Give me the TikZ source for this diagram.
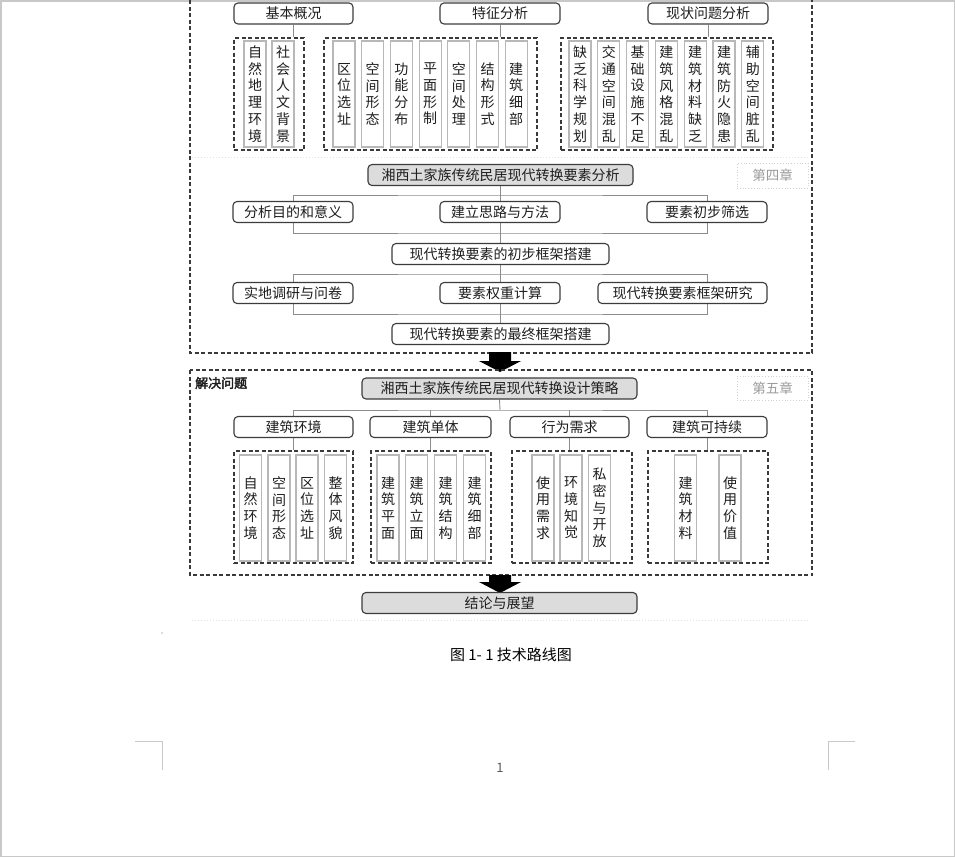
\documentclass[tikz,border=0pt]{standalone}
\usepackage{fontspec}
\setmainfont{Noto Sans CJK SC}[AutoFakeBold=2.5]
\usetikzlibrary{backgrounds}
\definecolor{boxc}{HTML}{3C3C3C}
\definecolor{fillg}{HTML}{DCDCDC}
\definecolor{grpc}{HTML}{3A3A3A}
\definecolor{vbc}{HTML}{B8B8B8}
\definecolor{connc}{HTML}{8C8C8C}
\definecolor{txt}{HTML}{1E1E1E}
\definecolor{chapc}{HTML}{D0D0D0}
\definecolor{chapt}{HTML}{9A9A9A}
\definecolor{pagec}{HTML}{C8C8C8}
\definecolor{sepc}{HTML}{E2E2E2}
\tikzset{
 rbox/.style={draw=boxc, line width=1.1pt, rounded corners=4pt, fill=white, minimum height=21pt, inner sep=0pt, font=\fontsize{14}{14}\selectfont, text=txt},
 gbox/.style={rbox, fill=fillg},
 grp/.style={draw=grpc, dash pattern=on 4pt off 2.5pt, line width=1.3pt, inner sep=0pt},
 vbox/.style={draw=vbc, line width=1.2pt, fill=white, minimum width=22pt, minimum height=106pt, inner sep=0pt, align=center, font=\fontsize{14}{16.7}\selectfont, text=txt},
 conn/.style={draw=connc, line width=0.9pt},
 chap/.style={draw=chapc, dotted, line width=0.8pt, text=chapt, font=\fontsize{13.5}{13.5}\selectfont, inner sep=0pt, minimum width=71pt, minimum height=25pt},
 outerframe/.style={draw=grpc, dash pattern=on 4pt off 2.5pt, line width=1.3pt},
 sepline/.style={draw=sepc, dotted, line width=1pt},
 bigarrow/.style={fill=black},
 cornermark/.style={draw=pagec, line width=1pt},
}
\begin{document}
\begin{tikzpicture}[x=1pt,y=-1pt]
\useasboundingbox (0,0) rectangle (955,857);
\draw[draw=pagec, line width=1.5pt] (0.75,0.75) rectangle (954.25,856.25);

% ---------- outer frame 1 ----------
\draw[outerframe] (190,0) -- (190,353) -- (812,353) -- (812,0);
\draw[sepline] (192,157) -- (810,157);

% top row
\node[rbox, minimum width=119pt] (t1) at (293.5,13.5) {基本概况};
\node[rbox, minimum width=120pt] (t2) at (500,13.5) {特征分析};
\node[rbox, minimum width=120pt] (t3) at (708,13.5) {现状问题分析};

\node[grp, minimum width=70pt, minimum height=112pt] (g1) at (269,94) {};
\node[grp, minimum width=213pt, minimum height=112pt] (g2) at (430.5,94) {};
\node[grp, minimum width=212pt, minimum height=112pt] (g3) at (667,94) {};

\node[vbox] (a1) at (255,94) {自\\然\\地\\理\\环\\境};
\node[vbox] (a2) at (283,94) {社\\会\\人\\文\\背\\景};

\node[vbox] (b1) at (344,94) {区\\位\\选\\址};
\node[vbox] (b2) at (372.7,94) {空\\间\\形\\态};
\node[vbox] (b3) at (401.4,94) {功\\能\\分\\布};
\node[vbox] (b4) at (430.1,94) {平\\面\\形\\制};
\node[vbox] (b5) at (458.8,94) {空\\间\\处\\理};
\node[vbox] (b6) at (487.5,94) {结\\构\\形\\式};
\node[vbox] (b7) at (516.2,94) {建\\筑\\细\\部};

\node[vbox] (c1) at (580,94) {缺\\乏\\科\\学\\规\\划};
\node[vbox] (c2) at (608.8,94) {交\\通\\空\\间\\混\\乱};
\node[vbox] (c3) at (637.6,94) {基\\础\\设\\施\\不\\足};
\node[vbox] (c4) at (666.4,94) {建\\筑\\风\\格\\混\\乱};
\node[vbox] (c5) at (695.2,94) {建\\筑\\材\\料\\缺\\乏};
\node[vbox] (c6) at (724,94) {建\\筑\\防\\火\\隐\\患};
\node[vbox] (c7) at (752.8,94) {辅\\助\\空\\间\\脏\\乱};

% ---------- chapter four ----------
\node[chap] (ch4) at (772.5,175.5) {第四章};
\node[gbox, minimum width=265pt] (m0) at (500.5,175) {湘西土家族传统民居现代转换要素分析};
\node[rbox, minimum width=120pt] (m1a) at (293,212) {分析目的和意义};
\node[rbox, minimum width=120pt] (m1b) at (500,212) {建立思路与方法};
\node[rbox, minimum width=120pt] (m1c) at (707,212) {要素初步筛选};
\node[rbox, minimum width=217pt] (m2) at (500.5,254) {现代转换要素的初步框架搭建};
\node[rbox, minimum width=120pt] (m3a) at (293,293) {实地调研与问卷};
\node[rbox, minimum width=120pt] (m3b) at (500,293) {要素权重计算};
\node[rbox, minimum width=169pt] (m3c) at (682.5,293) {现代转换要素框架研究};
\node[rbox, minimum width=217pt] (m4) at (500.5,334) {现代转换要素的最终框架搭建};

\coordinate (bus1) at (500,195);
\coordinate (bus2) at (500,233);
\coordinate (bus3) at (500,274);
\coordinate (bus4) at (500,314);
\coordinate (xr) at (707,0);

% ---------- arrows ----------
\fill[bigarrow] (489,352) -- (511,352) -- (511,361) -- (521,361) -- (500,372) -- (479,361) -- (489,361) -- cycle;

% ---------- outer frame 2 ----------
\draw[outerframe] (190,370) rectangle (812,575);
\node[anchor=west, font=\fontsize{13}{13}\selectfont\bfseries, text=txt, inner sep=0pt] (solve) at (195,383) {解决问题};
\node[chap, minimum height=24pt] (ch5) at (772.5,388) {第五章};
\node[gbox, minimum width=275pt] (s0) at (499.5,388.5) {湘西土家族传统民居现代转换设计策略};
\node[rbox, minimum width=119pt] (sa) at (293.5,427) {建筑环境};
\node[rbox, minimum width=121pt] (sb) at (430.5,427) {建筑单体};
\node[rbox, minimum width=119pt] (sc) at (569.5,427) {行为需求};
\node[rbox, minimum width=120pt] (sd) at (707,427) {建筑可持续};
\coordinate (bus5) at (500,410);

\node[grp, minimum width=119pt, minimum height=112pt] (ga) at (293.5,507) {};
\node[grp, minimum width=120pt, minimum height=112pt] (gb) at (431,507) {};
\node[grp, minimum width=120pt, minimum height=112pt] (gc) at (572,507) {};
\node[grp, minimum width=120pt, minimum height=112pt] (gd) at (708,507) {};

\node[vbox] (d1) at (250.5,508) {自\\然\\环\\境};
\node[vbox] (d2) at (279,508) {空\\间\\形\\态};
\node[vbox] (d3) at (307,508) {区\\位\\选\\址};
\node[vbox] (d4) at (335.5,508) {整\\体\\风\\貌};
\node[vbox] (e1) at (388,508) {建\\筑\\平\\面};
\node[vbox] (e2) at (416.5,508) {建\\筑\\立\\面};
\node[vbox] (e3) at (445.5,508) {建\\筑\\结\\构};
\node[vbox] (e4) at (474.5,508) {建\\筑\\细\\部};
\node[vbox] (f1) at (543,508) {使\\用\\需\\求};
\node[vbox] (f2) at (571,508) {环\\境\\知\\觉};
\node[vbox] (f3) at (599.5,508) {私\\密\\与\\开\\放};
\node[vbox] (h1) at (685.5,508) {建\\筑\\材\\料};
\node[vbox] (h2) at (730,508) {使\\用\\价\\值};

\fill[bigarrow] (489,575) -- (511,575) -- (511,582) -- (521,582) -- (500,593) -- (479,582) -- (489,582) -- cycle;
\node[gbox, minimum width=275pt] (fin) at (499.5,603) {结论与展望};
\draw[sepline] (192,620) -- (810,620);

% ---------- connectors ----------
\begin{pgfonlayer}{background}
\draw[conn] (t1.south) -- (g1.north -| t1.south);
\draw[conn] (t2.south) -- (g2.north -| t2.south);
\draw[conn] (t3.south) -- (g3.north -| t3.south);

\draw[conn] (m0.south) -- (m2.north);
\draw[conn] (m1a.north) |- (bus1) -| (m1c.north);
\draw[conn] (m1a.south) |- (bus2) -| (m1c.south);
\draw[conn] (m2.south) -- (m4.north);
\draw[conn] (m3a.north) |- (bus3) -| (m3c.north -| xr);
\draw[conn] (m3a.south) |- (bus4) -| (m3c.south -| xr);

\draw[conn] (s0.south) -- (bus5);
\draw[conn] (sa.north) |- (bus5) -| (sd.north);
\draw[conn] (sb.north) -- (sb.north |- bus5);
\draw[conn] (sc.north) -- (sc.north |- bus5);
\draw[conn] (sa.south) -- (ga.north -| sa.south);
\draw[conn] (sb.south) -- (gb.north -| sb.south);
\draw[conn] (sc.south) -- (gc.north -| sc.south);
\draw[conn] (sd.south) -- (gd.north -| sd.south);
\end{pgfonlayer}

% ---------- page elements ----------
\fill[black!60] (162,633) circle (0.6pt);
\node[font=\fontsize{15}{15}\selectfont, text=black, inner sep=0pt] (cap) at (511,655) {图 1- 1 技术路线图};
\node[font=\fontsize{13}{13}\selectfont, text=black!65, inner sep=0pt] (pg) at (500,768) {1};
\draw[cornermark] (135,741) -- (162,741) -- (162,770);
\draw[cornermark] (855,741) -- (828,741) -- (828,770);
\end{tikzpicture}
\end{document}
